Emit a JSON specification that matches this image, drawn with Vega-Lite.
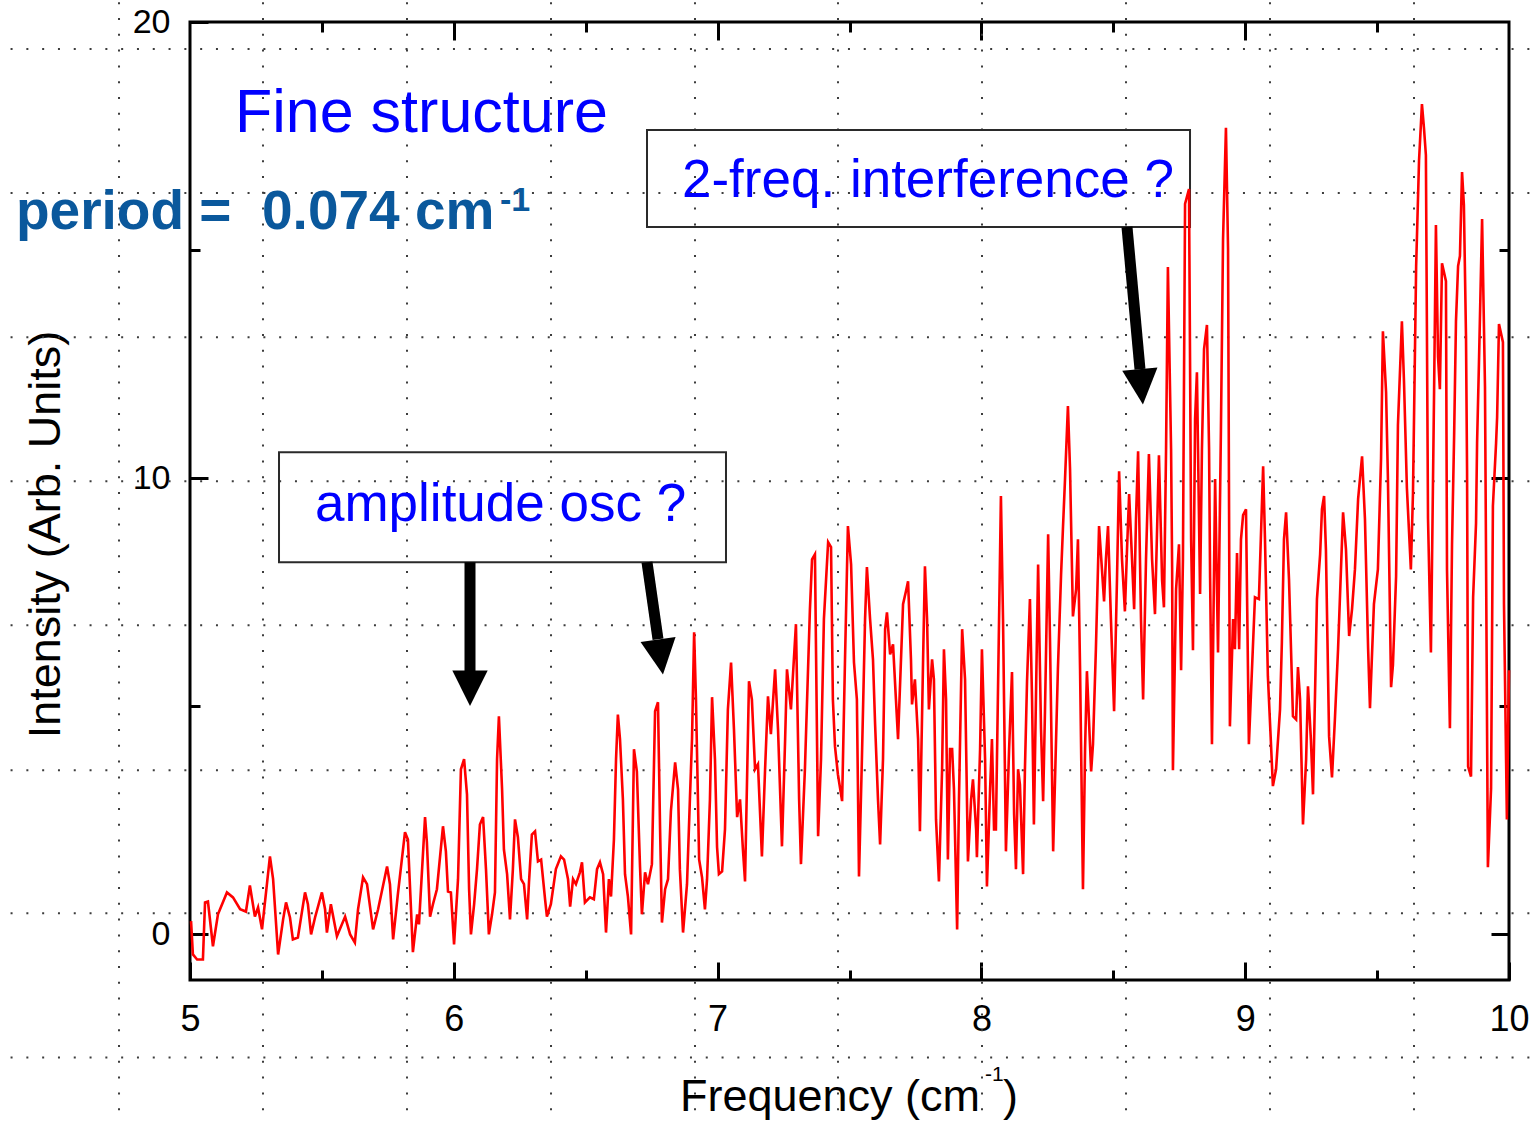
{
"$schema": "https://vega.github.io/schema/vega-lite/v6.json",
"width": 1319, "height": 958,
"autosize": {"type": "none"},
"padding": {"left": 190, "top": 22, "right": 26, "bottom": 142},
"background": "white",
"config": {
  "view": {"stroke": "black", "strokeWidth": 3},
  "font": "Liberation Sans",
  "axis": {"labelFont": "Liberation Sans", "labelFontSize": 36, "labelColor": "black", "tickColor": "black", "tickWidth": 3, "domain": false, "grid": false, "labelFlush": false, "labelOverlap": false}
},
"datasets": {
  "spec": [
{"f":5.004,"v":0.29},{"f":5.011,"v":-0.44},{"f":5.027,"v":-0.55},{"f":5.049,"v":-0.55},{"f":5.057,"v":0.70},{"f":5.068,"v":0.72},{"f":5.087,"v":-0.26},{"f":5.106,"v":0.44},{"f":5.140,"v":0.92},{"f":5.163,"v":0.81},
{"f":5.190,"v":0.55},{"f":5.212,"v":0.50},{"f":5.227,"v":1.07},{"f":5.246,"v":0.39},{"f":5.258,"v":0.59},{"f":5.273,"v":0.11},{"f":5.303,"v":1.71},{"f":5.315,"v":1.21},{"f":5.334,"v":-0.44},{"f":5.353,"v":0.33},
{"f":5.364,"v":0.70},{"f":5.379,"v":0.37},{"f":5.390,"v":-0.11},{"f":5.409,"v":-0.07},{"f":5.436,"v":0.92},{"f":5.447,"v":0.66},{"f":5.459,"v":0},{"f":5.474,"v":0.37},{"f":5.500,"v":0.92},{"f":5.512,"v":0.55},
{"f":5.519,"v":0.04},{"f":5.534,"v":0.66},{"f":5.557,"v":-0.04},{"f":5.588,"v":0.39},{"f":5.607,"v":0},{"f":5.625,"v":-0.18},{"f":5.637,"v":0.55},{"f":5.656,"v":1.25},{"f":5.671,"v":1.10},{"f":5.694,"v":0.11},
{"f":5.713,"v":0.55},{"f":5.747,"v":1.49},{"f":5.758,"v":1.10},{"f":5.770,"v":-0.11},{"f":5.788,"v":0.88},{"f":5.815,"v":2.24},{"f":5.826,"v":2.08},{"f":5.845,"v":-0.39},{"f":5.861,"v":0.44},{"f":5.868,"v":0.22},
{"f":5.891,"v":2.57},{"f":5.898,"v":2.02},{"f":5.910,"v":0.39},{"f":5.921,"v":0.66},{"f":5.936,"v":0.99},{"f":5.959,"v":2.37},{"f":5.970,"v":1.82},{"f":5.978,"v":0.94},{"f":5.989,"v":0.92},{"f":6.001,"v":-0.22},
{"f":6.016,"v":1.21},{"f":6.027,"v":3.62},{"f":6.039,"v":3.84},{"f":6.050,"v":3.07},{"f":6.058,"v":0.99},{"f":6.065,"v":0},{"f":6.077,"v":0.66},{"f":6.088,"v":1.43},{"f":6.099,"v":2.41},{"f":6.111,"v":2.57},
{"f":6.122,"v":1.43},{"f":6.133,"v":0},{"f":6.145,"v":0.44},{"f":6.156,"v":0.92},{"f":6.164,"v":3.84},{"f":6.171,"v":4.78},{"f":6.183,"v":3.18},{"f":6.190,"v":1.86},{"f":6.202,"v":1.32},{"f":6.213,"v":0.33},
{"f":6.224,"v":1.43},{"f":6.232,"v":2.52},{"f":6.243,"v":2.13},{"f":6.255,"v":1.21},{"f":6.266,"v":1.10},{"f":6.278,"v":0.33},{"f":6.285,"v":1.14},{"f":6.296,"v":2.19},{"f":6.308,"v":2.26},{"f":6.319,"v":1.60},
{"f":6.331,"v":1.64},{"f":6.346,"v":0.77},{"f":6.353,"v":0.39},{"f":6.368,"v":0.66},{"f":6.387,"v":1.43},{"f":6.406,"v":1.71},{"f":6.418,"v":1.64},{"f":6.433,"v":1.21},{"f":6.441,"v":0.61},{"f":6.452,"v":1.21},
{"f":6.463,"v":1.10},{"f":6.478,"v":1.36},{"f":6.486,"v":1.58},{"f":6.497,"v":0.70},{"f":6.516,"v":0.81},{"f":6.531,"v":0.77},{"f":6.543,"v":1.43},{"f":6.554,"v":1.58},{"f":6.566,"v":1.32},{"f":6.577,"v":0.04},
{"f":6.588,"v":1.21},{"f":6.596,"v":0.83},{"f":6.607,"v":2.08},{"f":6.615,"v":3.84},{"f":6.622,"v":4.82},{"f":6.630,"v":4.28},{"f":6.641,"v":2.96},{"f":6.649,"v":1.32},{"f":6.660,"v":0.83},{"f":6.672,"v":0},
{"f":6.683,"v":4.06},{"f":6.694,"v":3.57},{"f":6.706,"v":1.47},{"f":6.713,"v":0.44},{"f":6.725,"v":1.36},{"f":6.736,"v":1.10},{"f":6.751,"v":1.54},{"f":6.763,"v":4.89},{"f":6.774,"v":5.09},{"f":6.782,"v":2.30},
{"f":6.789,"v":0.26},{"f":6.801,"v":0.99},{"f":6.812,"v":1.21},{"f":6.823,"v":2.70},{"f":6.839,"v":3.77},{"f":6.850,"v":3.18},{"f":6.857,"v":1.43},{"f":6.869,"v":0.04},{"f":6.884,"v":1.10},{"f":6.895,"v":2.96},
{"f":6.903,"v":4.28},{"f":6.911,"v":6.62},{"f":6.918,"v":5.15},{"f":6.930,"v":1.64},{"f":6.941,"v":1.25},{"f":6.952,"v":0.55},{"f":6.960,"v":1.21},{"f":6.971,"v":2.96},{"f":6.979,"v":5.20},{"f":6.990,"v":3.84},
{"f":6.998,"v":1.91},{"f":7.005,"v":1.32},{"f":7.017,"v":1.38},{"f":7.028,"v":2.30},{"f":7.039,"v":4.93},{"f":7.051,"v":5.96},{"f":7.062,"v":4.50},{"f":7.074,"v":2.57},{"f":7.085,"v":2.96},{"f":7.096,"v":1.86},
{"f":7.104,"v":1.16},{"f":7.119,"v":5.55},{"f":7.130,"v":5.15},{"f":7.142,"v":3.62},{"f":7.153,"v":3.73},{"f":7.168,"v":1.71},{"f":7.180,"v":3.62},{"f":7.191,"v":5.22},{"f":7.202,"v":4.39},{"f":7.218,"v":5.81},
{"f":7.229,"v":4.50},{"f":7.244,"v":1.93},{"f":7.256,"v":4.28},{"f":7.263,"v":5.81},{"f":7.278,"v":4.93},{"f":7.297,"v":6.80},{"f":7.309,"v":2.96},{"f":7.316,"v":1.54},{"f":7.331,"v":3.62},{"f":7.350,"v":7.13},
{"f":7.358,"v":8.22},{"f":7.369,"v":8.33},{"f":7.381,"v":2.15},{"f":7.392,"v":3.84},{"f":7.403,"v":6.91},{"f":7.419,"v":8.60},{"f":7.430,"v":8.49},{"f":7.437,"v":5.15},{"f":7.445,"v":4.12},{"f":7.456,"v":3.51},
{"f":7.472,"v":2.92},{"f":7.483,"v":6.03},{"f":7.494,"v":8.95},{"f":7.506,"v":8.11},{"f":7.517,"v":5.96},{"f":7.528,"v":5.15},{"f":7.536,"v":1.27},{"f":7.547,"v":3.84},{"f":7.559,"v":6.91},{"f":7.566,"v":8.05},
{"f":7.578,"v":6.91},{"f":7.589,"v":6.03},{"f":7.597,"v":4.61},{"f":7.608,"v":2.96},{"f":7.616,"v":1.97},{"f":7.627,"v":3.84},{"f":7.635,"v":6.69},{"f":7.642,"v":7.06},{"f":7.654,"v":6.14},{"f":7.665,"v":6.36},
{"f":7.676,"v":5.15},{"f":7.684,"v":4.28},{"f":7.703,"v":7.24},{"f":7.714,"v":7.52},{"f":7.722,"v":7.74},{"f":7.733,"v":6.03},{"f":7.737,"v":5.04},{"f":7.748,"v":5.59},{"f":7.760,"v":4.28},{"f":7.767,"v":2.26},
{"f":7.779,"v":6.03},{"f":7.786,"v":8.07},{"f":7.794,"v":6.91},{"f":7.801,"v":4.93},{"f":7.813,"v":6.03},{"f":7.820,"v":5.59},{"f":7.828,"v":2.52},{"f":7.839,"v":1.16},{"f":7.851,"v":3.62},{"f":7.858,"v":6.25},
{"f":7.866,"v":5.15},{"f":7.873,"v":1.64},{"f":7.881,"v":4.06},{"f":7.889,"v":4.06},{"f":7.896,"v":3.18},{"f":7.908,"v":0.11},{"f":7.915,"v":2.96},{"f":7.927,"v":6.69},{"f":7.938,"v":5.59},{"f":7.949,"v":1.60},
{"f":7.961,"v":2.96},{"f":7.968,"v":3.40},{"f":7.980,"v":2.30},{"f":7.983,"v":1.69},{"f":7.995,"v":4.06},{"f":8.002,"v":6.25},{"f":8.014,"v":3.84},{"f":8.021,"v":1.05},{"f":8.033,"v":3.18},{"f":8.040,"v":4.28},
{"f":8.048,"v":2.30},{"f":8.055,"v":2.30},{"f":8.074,"v":9.61},{"f":8.082,"v":6.91},{"f":8.093,"v":1.82},{"f":8.105,"v":4.06},{"f":8.116,"v":5.75},{"f":8.124,"v":2.63},{"f":8.131,"v":1.43},{"f":8.139,"v":3.62},
{"f":8.146,"v":3.29},{"f":8.158,"v":1.32},{"f":8.165,"v":3.62},{"f":8.173,"v":5.55},{"f":8.184,"v":7.35},{"f":8.192,"v":5.15},{"f":8.199,"v":2.41},{"f":8.215,"v":8.11},{"f":8.226,"v":4.50},{"f":8.234,"v":2.92},
{"f":8.241,"v":4.89},{"f":8.253,"v":8.77},{"f":8.260,"v":6.47},{"f":8.272,"v":1.82},{"f":8.290,"v":5.81},{"f":8.302,"v":7.89},{"f":8.309,"v":8.88},{"f":8.317,"v":9.98},{"f":8.328,"v":11.58},{"f":8.336,"v":10.20},
{"f":8.347,"v":6.97},{"f":8.359,"v":7.57},{"f":8.366,"v":8.66},{"f":8.374,"v":5.81},{"f":8.385,"v":0.99},{"f":8.393,"v":4.06},{"f":8.400,"v":5.77},{"f":8.416,"v":3.57},{"f":8.423,"v":4.17},{"f":8.434,"v":6.25},
{"f":8.446,"v":8.95},{"f":8.457,"v":8.00},{"f":8.465,"v":7.30},{"f":8.472,"v":8.22},{"f":8.480,"v":8.95},{"f":8.491,"v":6.91},{"f":8.503,"v":4.89},{"f":8.514,"v":7.79},{"f":8.522,"v":10.15},{"f":8.533,"v":8.22},
{"f":8.544,"v":7.08},{"f":8.552,"v":8.44},{"f":8.560,"v":9.65},{"f":8.571,"v":8.22},{"f":8.579,"v":7.13},{"f":8.586,"v":9.10},{"f":8.594,"v":10.59},{"f":8.605,"v":6.91},{"f":8.613,"v":5.15},{"f":8.624,"v":8.22},
{"f":8.635,"v":10.53},{"f":8.647,"v":8.22},{"f":8.658,"v":7.02},{"f":8.666,"v":8.88},{"f":8.673,"v":10.50},{"f":8.685,"v":7.76},{"f":8.692,"v":7.17},{"f":8.700,"v":10.64},{"f":8.707,"v":14.63},{"f":8.719,"v":10.64},
{"f":8.723,"v":8.05},{"f":8.726,"v":3.60},{"f":8.738,"v":7.57},{"f":8.749,"v":8.55},{"f":8.757,"v":5.79},{"f":8.764,"v":8.22},{"f":8.772,"v":16.01},{"f":8.787,"v":16.34},{"f":8.795,"v":8.66},{"f":8.802,"v":6.23},
{"f":8.810,"v":11.29},{"f":8.817,"v":12.32},{"f":8.829,"v":7.46},{"f":8.836,"v":10.64},{"f":8.844,"v":12.83},{"f":8.855,"v":13.36},{"f":8.863,"v":10.64},{"f":8.867,"v":7.81},{"f":8.874,"v":4.17},{"f":8.886,"v":9.98},
{"f":8.897,"v":6.18},{"f":8.908,"v":11.07},{"f":8.916,"v":15.24},{"f":8.927,"v":17.68},{"f":8.935,"v":15.02},{"f":8.942,"v":4.56},{"f":8.954,"v":6.91},{"f":8.961,"v":6.25},{"f":8.969,"v":8.36},{"f":8.977,"v":6.25},
{"f":8.984,"v":8.66},{"f":8.992,"v":9.19},{"f":9.003,"v":9.32},{"f":9.014,"v":4.17},{"f":9.037,"v":7.39},{"f":9.052,"v":7.35},{"f":9.068,"v":10.26},{"f":9.075,"v":8.66},{"f":9.086,"v":5.66},{"f":9.105,"v":3.25},
{"f":9.117,"v":3.62},{"f":9.132,"v":4.93},{"f":9.139,"v":6.40},{"f":9.147,"v":8.66},{"f":9.155,"v":9.25},{"f":9.166,"v":7.79},{"f":9.181,"v":4.78},{"f":9.193,"v":4.71},{"f":9.200,"v":5.86},{"f":9.208,"v":5.15},
{"f":9.219,"v":2.41},{"f":9.231,"v":3.84},{"f":9.238,"v":5.44},{"f":9.249,"v":4.28},{"f":9.257,"v":3.07},{"f":9.272,"v":7.35},{"f":9.284,"v":8.33},{"f":9.291,"v":9.32},{"f":9.299,"v":9.61},{"f":9.306,"v":8.44},
{"f":9.318,"v":4.34},{"f":9.329,"v":3.44},{"f":9.340,"v":4.71},{"f":9.352,"v":6.25},{"f":9.363,"v":8.00},{"f":9.371,"v":9.25},{"f":9.382,"v":8.44},{"f":9.394,"v":6.54},{"f":9.405,"v":7.13},{"f":9.416,"v":8.00},
{"f":9.428,"v":9.54},{"f":9.443,"v":10.48},{"f":9.454,"v":9.10},{"f":9.466,"v":6.25},{"f":9.473,"v":4.96},{"f":9.488,"v":7.24},{"f":9.503,"v":8.00},{"f":9.515,"v":10.44},{"f":9.522,"v":13.22},{"f":9.534,"v":11.89},
{"f":9.541,"v":10.00},{"f":9.553,"v":5.42},{"f":9.560,"v":5.90},{"f":9.572,"v":7.85},{"f":9.579,"v":11.16},{"f":9.594,"v":13.44},{"f":9.602,"v":12.11},{"f":9.613,"v":9.78},{"f":9.628,"v":8.00},{"f":9.636,"v":9.67},
{"f":9.648,"v":14.65},{"f":9.659,"v":16.97},{"f":9.670,"v":18.20},{"f":9.678,"v":17.65},{"f":9.685,"v":17.08},{"f":9.693,"v":9.12},{"f":9.704,"v":6.18},{"f":9.716,"v":11.89},{"f":9.723,"v":15.55},{"f":9.731,"v":12.65},
{"f":9.738,"v":11.95},{"f":9.746,"v":14.71},{"f":9.761,"v":14.32},{"f":9.765,"v":8.00},{"f":9.776,"v":4.52},{"f":9.784,"v":8.55},{"f":9.792,"v":10.94},{"f":9.799,"v":13.44},{"f":9.807,"v":14.65},{"f":9.814,"v":14.87},
{"f":9.822,"v":16.71},{"f":9.829,"v":15.99},{"f":9.837,"v":13.11},{"f":9.841,"v":10.18},{"f":9.845,"v":3.68},{"f":9.856,"v":3.46},{"f":9.864,"v":7.39},{"f":9.875,"v":9.01},{"f":9.879,"v":10.77},{"f":9.886,"v":12.50},
{"f":9.898,"v":15.68},{"f":9.909,"v":12.00},{"f":9.913,"v":8.22},{"f":9.920,"v":1.47},{"f":9.932,"v":3.20},{"f":9.939,"v":9.39},{"f":9.951,"v":10.77},{"f":9.955,"v":11.34},{"f":9.962,"v":13.38},{"f":9.977,"v":12.98},
{"f":9.981,"v":7.24},{"f":9.992,"v":2.52},{"f":10.0,"v":5.79}
  ],
  "gridV": [{"f":4.7309},{"f":5.2767},{"f":5.8226},{"f":6.3685},{"f":6.9143},{"f":7.4564},{"f":8.0023},{"f":8.5482},{"f":9.094},{"f":9.6399}],
  "gridH": [{"v":19.408},{"v":16.25},{"v":13.092},{"v":9.934},{"v":6.776},{"v":3.596},{"v":0.461},{"v":-2.697}],
  "boxes": [{"f":6.7324,"f2":8.7908,"v":17.632,"v2":15.504},{"f":5.3374,"f2":7.0318,"v":10.57,"v2":8.158}],
  "shafts": [{"f":6.0614,"v":8.158,"f2":6.0614,"v2":5.768},{"f":6.7324,"v":8.158,"f2":6.7741,"v2":6.469},{"f":8.5519,"v":15.504,"f2":8.6012,"v2":12.39}],
  "heads": [{"f":6.0614,"v":5.395,"ang":0},{"f":6.7836,"v":6.081,"ang":352},{"f":8.6065,"v":12.004,"ang":355}],
  "one": [{"f":5,"v":0}]
},
"resolve": {"axis": {"x": "independent", "y": "independent"}},
"layer": [
  {"data": {"name": "gridV"}, "mark": {"type": "rule", "color": "#3c3c3c", "strokeWidth": 2, "strokeDash": [2, 13.8]},
   "encoding": {"x": {"field": "f", "type": "quantitative", "scale": {"domain": [5, 10], "nice": false, "zero": false}, "axis": null},
                "y": {"datum": -4.2, "type": "quantitative", "scale": {"domain": [-1, 20], "nice": false, "zero": false}, "axis": null},
                "y2": {"datum": 20.6}}},
  {"data": {"name": "gridH"}, "mark": {"type": "rule", "color": "#3c3c3c", "strokeWidth": 2, "strokeDash": [2, 13.8]},
   "encoding": {"y": {"field": "v", "type": "quantitative", "scale": {"domain": [-1, 20], "nice": false, "zero": false}, "axis": null},
                "x": {"datum": 4.2, "type": "quantitative", "scale": {"domain": [5, 10], "nice": false, "zero": false}, "axis": null},
                "x2": {"datum": 10.2}}},
  {"data": {"name": "boxes"}, "mark": {"type": "rect", "fillOpacity": 0, "fill": "white", "stroke": "#2a2a2a", "strokeWidth": 2},
   "encoding": {"x": {"field": "f", "type": "quantitative", "scale": {"domain": [5, 10], "nice": false, "zero": false}, "axis": null},
                "x2": {"field": "f2"},
                "y": {"field": "v", "type": "quantitative", "scale": {"domain": [-1, 20], "nice": false, "zero": false}, "axis": null},
                "y2": {"field": "v2"}}},
  {"data": {"name": "spec"}, "mark": {"type": "line", "color": "#ff0000", "strokeWidth": 2.6, "strokeJoin": "miter"},
   "encoding": {
     "x": {"field": "f", "type": "quantitative", "scale": {"domain": [5, 10], "nice": false, "zero": false},
           "axis": {"orient": "bottom", "values": [5, 6, 7, 8, 9, 10], "tickSize": -18, "labelPadding": 40, "title": null, "format": "d"}},
     "y": {"field": "v", "type": "quantitative", "scale": {"domain": [-1, 20], "nice": false, "zero": false},
           "axis": {"orient": "left", "values": [0, 10, 20], "tickSize": -18, "labelPadding": 38, "labelFontSize": 34, "format": "d",
                    "title": "Intensity (Arb. Units)", "titleFont": "Liberation Sans", "titleFontSize": 45, "titleFontWeight": "normal", "titleColor": "black",
                    "titleAngle": 270, "titleAlign": "center", "titleBaseline": "alphabetic", "titleX": -131, "titleY": 512}}}},
  {"data": {"name": "one"}, "mark": {"type": "point", "opacity": 0},
   "encoding": {
     "x": {"field": "f", "type": "quantitative", "scale": {"domain": [5, 10], "nice": false, "zero": false},
           "axis": {"orient": "bottom", "values": [5.5, 6.5, 7.5, 8.5, 9.5], "tickSize": -10, "labels": false, "title": null}},
     "y": {"field": "v", "type": "quantitative", "scale": {"domain": [-1, 20], "nice": false, "zero": false},
           "axis": {"orient": "left", "values": [5, 15], "tickSize": -10, "labels": false, "title": null}}}},
  {"data": {"name": "one"}, "mark": {"type": "point", "opacity": 0},
   "encoding": {
     "x": {"field": "f", "type": "quantitative", "scale": {"domain": [5, 10], "nice": false, "zero": false},
           "axis": {"orient": "top", "values": [6, 7, 8, 9], "tickSize": -18, "labels": false, "title": null}},
     "y": {"field": "v", "type": "quantitative", "scale": {"domain": [-1, 20], "nice": false, "zero": false},
           "axis": {"orient": "right", "values": [0, 10], "tickSize": -18, "labels": false, "title": null}}}},
  {"data": {"name": "one"}, "mark": {"type": "point", "opacity": 0},
   "encoding": {
     "x": {"field": "f", "type": "quantitative", "scale": {"domain": [5, 10], "nice": false, "zero": false},
           "axis": {"orient": "top", "values": [5.5, 6.5, 7.5, 8.5, 9.5], "tickSize": -10, "labels": false, "title": null}},
     "y": {"field": "v", "type": "quantitative", "scale": {"domain": [-1, 20], "nice": false, "zero": false},
           "axis": {"orient": "right", "values": [5, 15], "tickSize": -10, "labels": false, "title": null}}}},
  {"data": {"name": "shafts"}, "mark": {"type": "rule", "color": "black", "strokeWidth": 11, "strokeCap": "butt"},
   "encoding": {"x": {"field": "f", "type": "quantitative", "scale": {"domain": [5, 10], "nice": false, "zero": false}, "axis": null},
                "x2": {"field": "f2"},
                "y": {"field": "v", "type": "quantitative", "scale": {"domain": [-1, 20], "nice": false, "zero": false}, "axis": null},
                "y2": {"field": "v2"}}},
  {"data": {"name": "heads"}, "mark": {"type": "point", "shape": "M -1 -1 L 1 -1 L 0 1 Z", "filled": true, "color": "black", "opacity": 1, "size": 1250, "strokeWidth": 0},
   "encoding": {"x": {"field": "f", "type": "quantitative", "scale": {"domain": [5, 10], "nice": false, "zero": false}, "axis": null},
                "y": {"field": "v", "type": "quantitative", "scale": {"domain": [-1, 20], "nice": false, "zero": false}, "axis": null},
                "angle": {"field": "ang", "type": "quantitative", "scale": null}}},
  {"data": {"values": [{"f": 5.1706, "v": 17.588, "t": "Fine structure"}]},
   "mark": {"type": "text", "font": "Liberation Sans", "fontSize": 61, "color": "#0000ff", "align": "left", "baseline": "alphabetic"},
   "encoding": {"x": {"field": "f", "type": "quantitative", "scale": {"domain": [5, 10], "nice": false, "zero": false}, "axis": null},
                "y": {"field": "v", "type": "quantitative", "scale": {"domain": [-1, 20], "nice": false, "zero": false}, "axis": null},
                "text": {"field": "t"}}},
  {"data": {"values": [{"f": 6.865, "v": 16.173, "t": "2-freq. interference ?"}, {"f": 5.4738, "v": 9.057, "t": "amplitude osc ?"}]},
   "mark": {"type": "text", "font": "Liberation Sans", "fontSize": 53, "color": "#0000ff", "align": "left", "baseline": "alphabetic"},
   "encoding": {"x": {"field": "f", "type": "quantitative", "scale": {"domain": [5, 10], "nice": false, "zero": false}, "axis": null},
                "y": {"field": "v", "type": "quantitative", "scale": {"domain": [-1, 20], "nice": false, "zero": false}, "axis": null},
                "text": {"field": "t"}}},
  {"data": {"values": [{"f": 4.3404, "v": 15.461, "t": "period = \u00a00.074 cm"}]},
   "mark": {"type": "text", "font": "Liberation Sans", "fontWeight": "bold", "fontSize": 55, "color": "#0a589c", "align": "left", "baseline": "alphabetic"},
   "encoding": {"x": {"field": "f", "type": "quantitative", "scale": {"domain": [5, 10], "nice": false, "zero": false}, "axis": null},
                "y": {"field": "v", "type": "quantitative", "scale": {"domain": [-1, 20], "nice": false, "zero": false}, "axis": null},
                "text": {"field": "t"}}},
  {"data": {"values": [{"f": 6.1751, "v": 15.855, "t": "-1"}]},
   "mark": {"type": "text", "font": "Liberation Sans", "fontWeight": "bold", "fontSize": 34, "color": "#0a589c", "align": "left", "baseline": "alphabetic"},
   "encoding": {"x": {"field": "f", "type": "quantitative", "scale": {"domain": [5, 10], "nice": false, "zero": false}, "axis": null},
                "y": {"field": "v", "type": "quantitative", "scale": {"domain": [-1, 20], "nice": false, "zero": false}, "axis": null},
                "text": {"field": "t"}}},
  {"data": {"values": [{"f": 6.8575, "v": -3.882, "t": "Frequency (cm"}, {"f": 8.0819, "v": -3.882, "t": ")"}]},
   "mark": {"type": "text", "font": "Liberation Sans", "fontSize": 45, "color": "black", "align": "left", "baseline": "alphabetic"},
   "encoding": {"x": {"field": "f", "type": "quantitative", "scale": {"domain": [5, 10], "nice": false, "zero": false}, "axis": null},
                "y": {"field": "v", "type": "quantitative", "scale": {"domain": [-1, 20], "nice": false, "zero": false}, "axis": null},
                "text": {"field": "t"}}},
  {"data": {"values": [{"f": 8.0136, "v": -3.224, "t": "-1"}]},
   "mark": {"type": "text", "font": "Liberation Sans", "fontSize": 21, "color": "black", "align": "left", "baseline": "alphabetic"},
   "encoding": {"x": {"field": "f", "type": "quantitative", "scale": {"domain": [5, 10], "nice": false, "zero": false}, "axis": null},
                "y": {"field": "v", "type": "quantitative", "scale": {"domain": [-1, 20], "nice": false, "zero": false}, "axis": null},
                "text": {"field": "t"}}}
]
}
